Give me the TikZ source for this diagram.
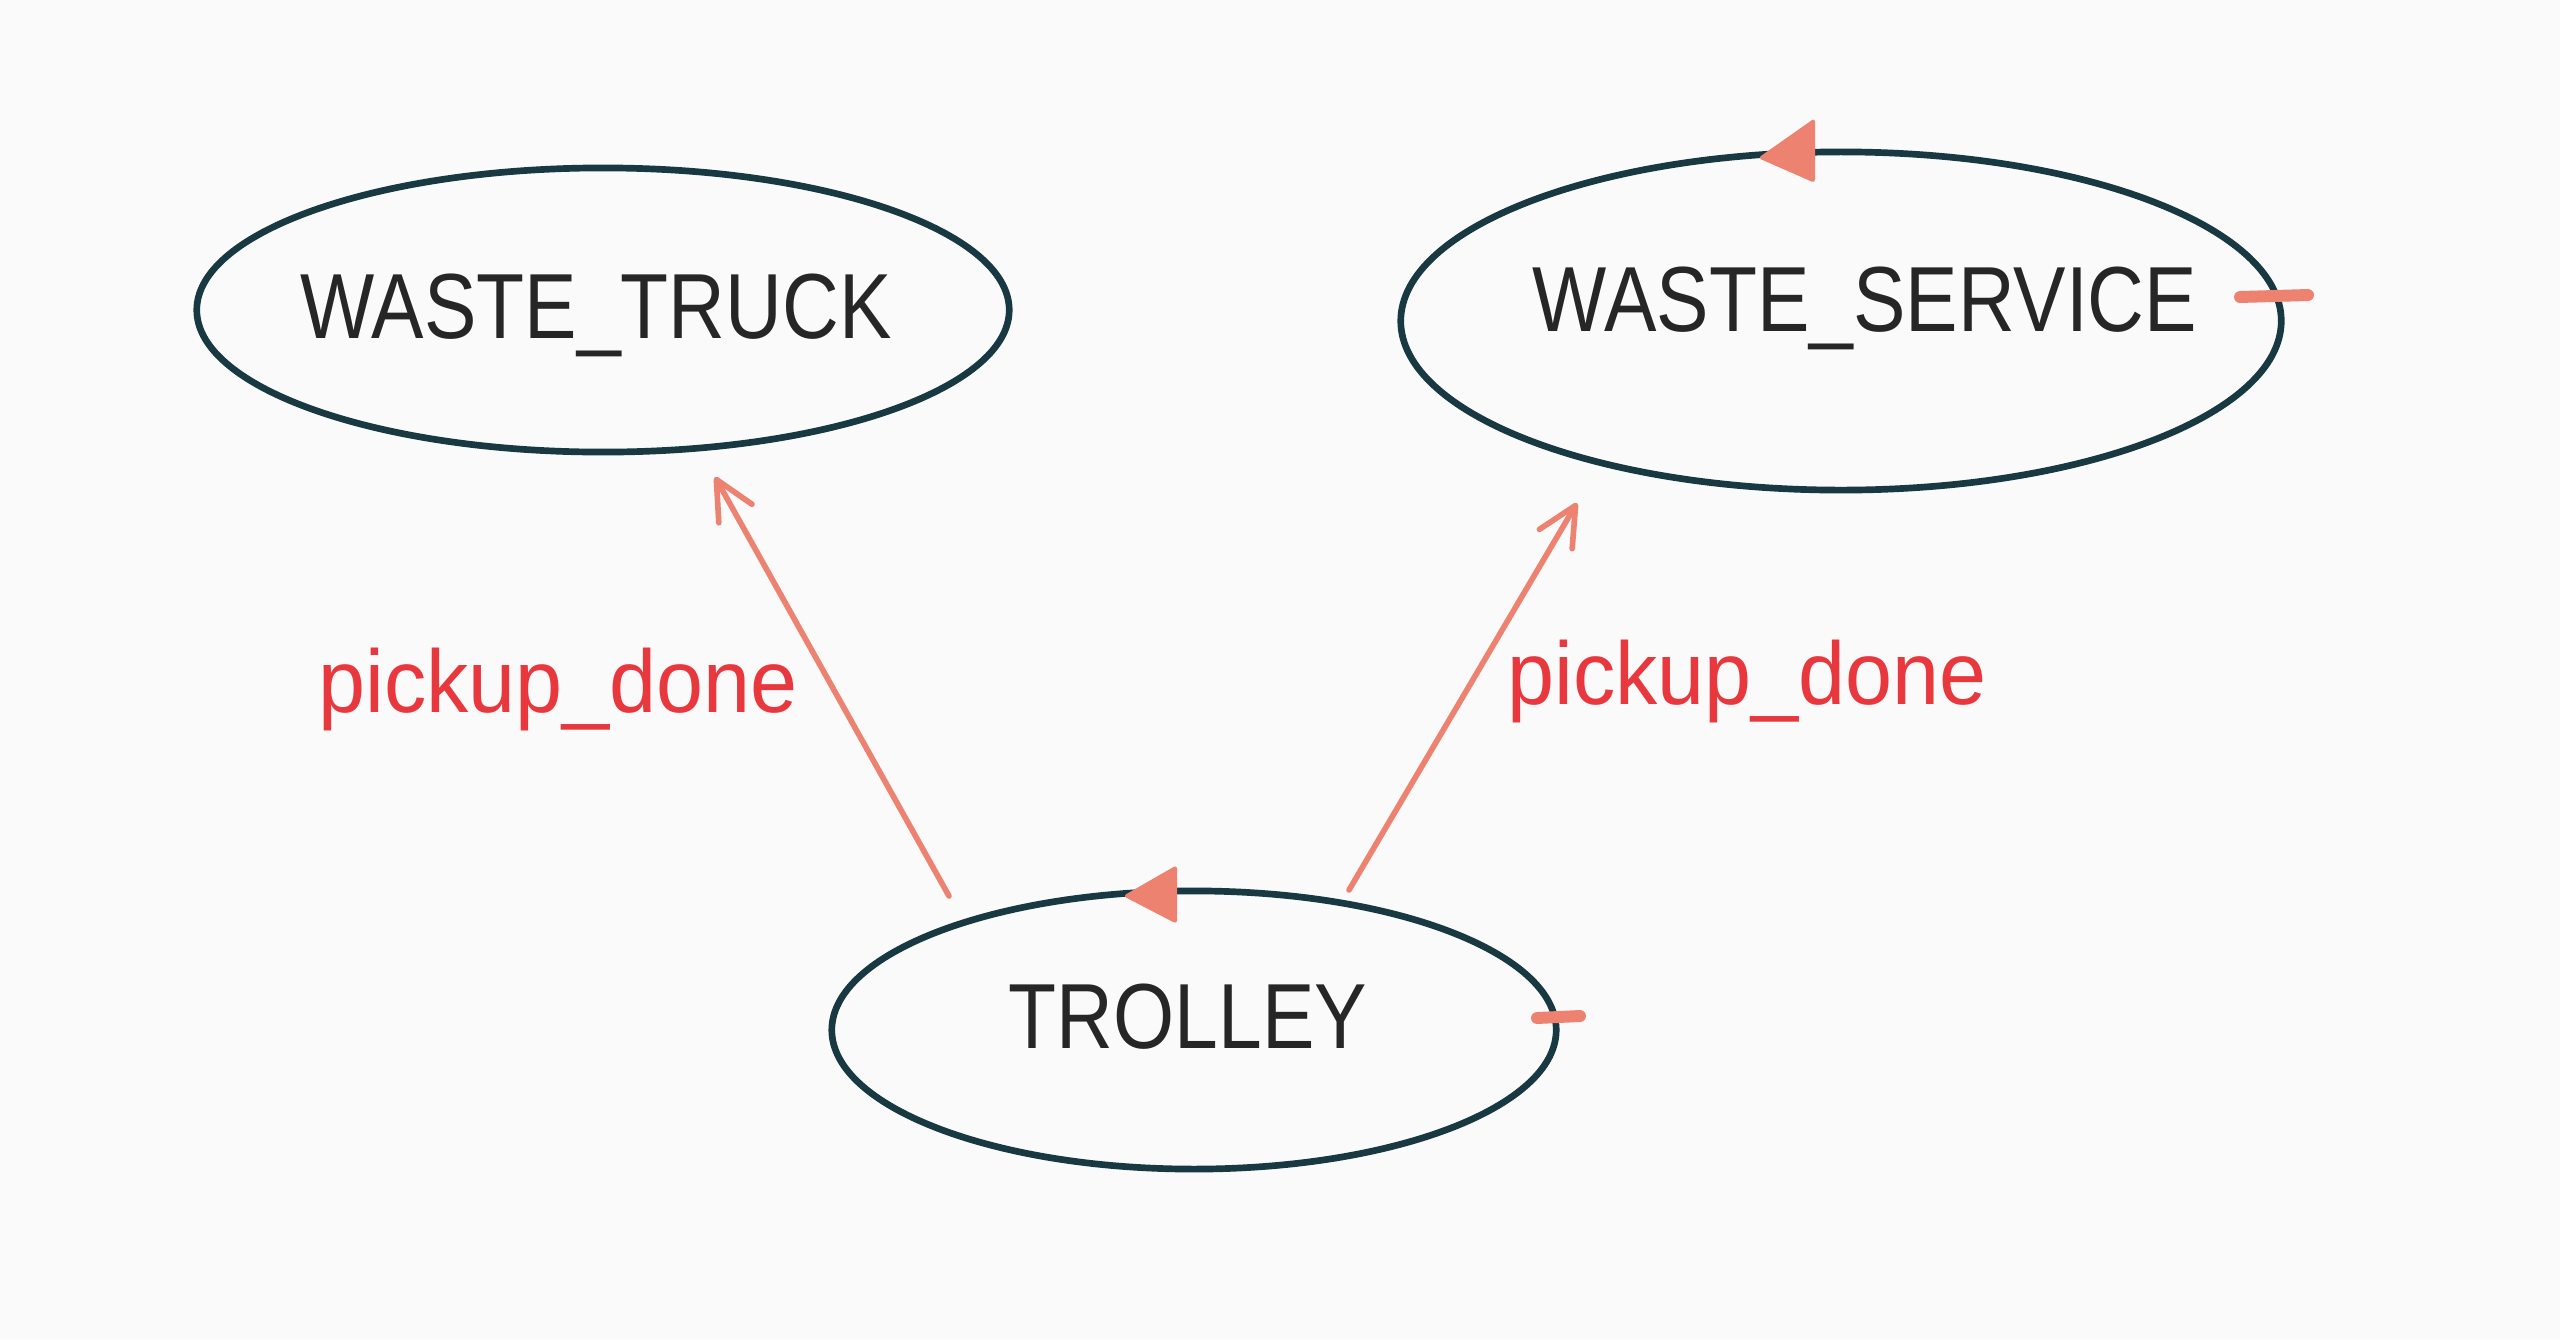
\documentclass[tikz,border=0pt]{standalone}
\usepackage{fontspec}
\setmainfont{Liberation Sans}
\newfontfamily\namefont[FakeStretch=0.85]{Liberation Sans}
\newfontfamily\labfont[FakeStretch=0.95]{Liberation Sans}
\usetikzlibrary{shapes.geometric,arrows.meta}
\definecolor{bgcol}{HTML}{FAFAFA}
\definecolor{rimcol}{HTML}{183842}
\definecolor{salmon}{HTML}{EE8270}
\definecolor{labred}{HTML}{E8383D}
\tikzset{
	state/.style={ellipse,draw=rimcol,line width=1.9pt,inner sep=0pt},
	statename/.style={anchor=base,inner sep=0pt,text=black!85,font=\namefont\fontsize{26.3}{30}\selectfont},
	msg/.style={->,draw=salmon,line width=1.6pt,line cap=round},
	msglabel/.style={anchor=base,inner sep=0pt,text=labred,font=\labfont\fontsize{25.3}{30}\selectfont},
	loophead/.style={fill=salmon,rounded corners=1pt},
	looptick/.style={draw=salmon,line width=3.4pt,line cap=round}
}
\begin{document}
\begin{tikzpicture}[x=0.01cm,y=-0.01cm,>={Straight Barb[length=3.9mm,width=3.8mm,round]}]
			\fill[bgcol] (0,0) rectangle (2560,1339);
			\useasboundingbox (0,0) rectangle (2560,1339);
			% the three actors
			\node[state,minimum width=8.12cm,minimum height=2.84cm] (truck) at (603,310) {};
			\node[state,minimum width=8.8cm,minimum height=3.38cm] (service) at (1841,321) {};
			\node[state,minimum width=7.24cm,minimum height=2.78cm] (trolley) at (1194,1030) {};
			\node[statename] (truck-name) at ([shift={(-7,28)}]truck.center) {WASTE\_TRUCK};
			\node[statename] (service-name) at ([shift={(24,10)}]service.center) {WASTE\_SERVICE};
			\node[statename] (trolley-name) at ([shift={(-6,18)}]trolley.center) {TROLLEY};
			% message ends
			\coordinate (t1) at (949,896);
			\coordinate (t2) at (715,477);
			\coordinate (s1) at (1349,890);
			\coordinate (s2) at (1577,503);
			\draw[msg] (t1) -- (t2);
			\draw[msg] (s1) -- (s2);
			\node[msglabel] (lab1) at (558,712) {pickup\_done};
			\node[msglabel] (lab2) at (1747,704) {pickup\_done};
			% self loops
			\fill[loophead] (1758,158) -- (1815,118) -- (1815,183) -- cycle;
			\fill[loophead] (1123,896) -- (1177,865) -- (1177,924) -- cycle;
			\draw[looptick] (2240,297) -- (2308,295);
			\draw[looptick] (1537,1018) -- (1580,1016);
\end{tikzpicture}
\end{document}
